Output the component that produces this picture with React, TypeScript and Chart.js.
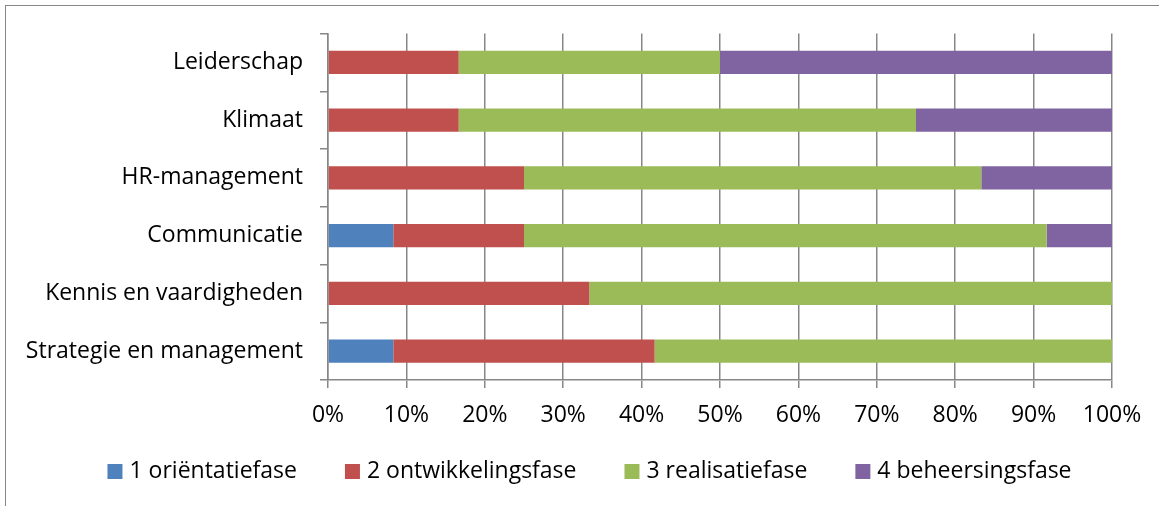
import React, { useEffect, useRef } from "react";
import { Chart, registerables } from "chart.js";

Chart.register(...registerables);

// Aspects of the organisation, top to bottom
const categories = [
  "Leiderschap",
  "Klimaat",
  "HR-management",
  "Communicatie",
  "Kennis en vaardigheden",
  "Strategie en management",
];

// Share (%) of each phase per aspect
const orientatie = [0, 0, 0, 8.33, 0, 8.33];
const ontwikkeling = [16.67, 16.67, 25, 16.67, 33.33, 33.33];
const realisatie = [33.33, 58.33, 58.33, 66.67, 66.67, 58.34];
const beheersing = [50, 25, 16.67, 8.33, 0, 0];

const seriesNames = [
  "1 oriëntatiefase",
  "2 ontwikkelingsfase",
  "3 realisatiefase",
  "4 beheersingsfase",
];
const seriesColors = ["#4F81BD", "#C0504D", "#9BBB59", "#8064A2"];

const percentTicks = [0, 10, 20, 30, 40, 50, 60, 70, 80, 90, 100];

const AXIS_GREY = "#878787";
const FONT = "'Open Sans', 'Noto Sans', sans-serif";
const FONT_SIZE = 23;

// Legend row below the axis: centred in the chart frame
const LEGEND = { centerX: 589.5, centerY: 471.5, box: 15, textGap: 7, itemGap: 48 };

const phaseLegend = {
  id: "phaseLegend",
  afterDraw(chart: any) {
    const { ctx } = chart;
    const items = chart.data.datasets.map((ds: any) => ({
      text: String(ds.label),
      color: ds.backgroundColor as string,
    }));
    ctx.save();
    ctx.font = `${FONT_SIZE}px ${FONT}`;
    ctx.textBaseline = "middle";
    ctx.textAlign = "left";
    const widths = items.map((it: any) => ctx.measureText(it.text).width);
    const total =
      widths.reduce((s: number, w: number) => s + LEGEND.box + LEGEND.textGap + w, 0) +
      LEGEND.itemGap * (items.length - 1);
    let x = LEGEND.centerX - total / 2;
    items.forEach((it: any, i: number) => {
      ctx.fillStyle = it.color;
      ctx.fillRect(x, LEGEND.centerY - LEGEND.box / 2, LEGEND.box, LEGEND.box);
      x += LEGEND.box + LEGEND.textGap;
      ctx.fillStyle = "#000";
      ctx.fillText(it.text, x, LEGEND.centerY);
      x += widths[i] + LEGEND.itemGap;
    });
    ctx.restore();
  },
};

export default function App() {
  const canvasRef = useRef<HTMLCanvasElement | null>(null);

  useEffect(() => {
    const canvas = canvasRef.current;
    if (!canvas) return;
    const values = [orientatie, ontwikkeling, realisatie, beheersing];

    const chart = new Chart(canvas, {
      type: "bar",
      data: {
        labels: categories,
        datasets: values.map((data, i) => ({
          label: seriesNames[i],
          data,
          backgroundColor: seriesColors[i],
          borderWidth: 0,
          barPercentage: 0.4,
          categoryPercentage: 1,
        })),
      },
      plugins: [phaseLegend],
      options: {
        indexAxis: "y",
        responsive: false,
        animation: false,
        devicePixelRatio: 1,
        font: { family: FONT, size: FONT_SIZE },
        layout: { padding: { top: 33.5, right: 47, bottom: 74, left: 0 } },
        plugins: {
          tooltip: { enabled: false },
          legend: { display: false },
        },
        scales: {
          x: {
            stacked: true,
            min: 0,
            max: 100,
            afterBuildTicks: (scale: any) => {
              scale.ticks = percentTicks.map((v) => ({ value: v }));
            },
            afterFit: (scale: any) => {
              scale.height = 52;
            },
            ticks: {
              color: "#000",
              padding: 14,
              maxRotation: 0,
              font: { family: FONT, size: FONT_SIZE },
              callback: (v: any) => `${v}%`,
            },
            grid: {
              color: AXIS_GREY,
              lineWidth: 1.5,
              tickLength: 8,
            },
            border: { color: AXIS_GREY, width: 1.5 },
          },
          y: {
            stacked: true,
            afterFit: (scale: any) => {
              scale.width = 328;
            },
            ticks: {
              color: "#000",
              padding: 17,
              font: { family: FONT, size: FONT_SIZE },
            },
            grid: {
              offset: true,
              drawOnChartArea: false,
              color: AXIS_GREY,
              lineWidth: 1.5,
              tickLength: 8,
            },
            border: { color: AXIS_GREY, width: 1.5 },
          },
        },
      },
    });

    return () => chart.destroy();
  }, []);

  return (
    <div
      style={{
        position: "fixed",
        left: 0,
        top: 0,
        width: 1159,
        height: 506,
        background: "#fff",
        overflow: "hidden",
      }}
    >
      <div
        style={{
          position: "absolute",
          left: 5,
          top: 5,
          width: 1200,
          height: 600,
          borderLeft: `1px solid ${AXIS_GREY}`,
          borderTop: `1px solid ${AXIS_GREY}`,
        }}
      />
      <canvas
        ref={canvasRef}
        width={1159}
        height={506}
        style={{ position: "absolute", left: 0, top: 0 }}
      />
    </div>
  );
}
